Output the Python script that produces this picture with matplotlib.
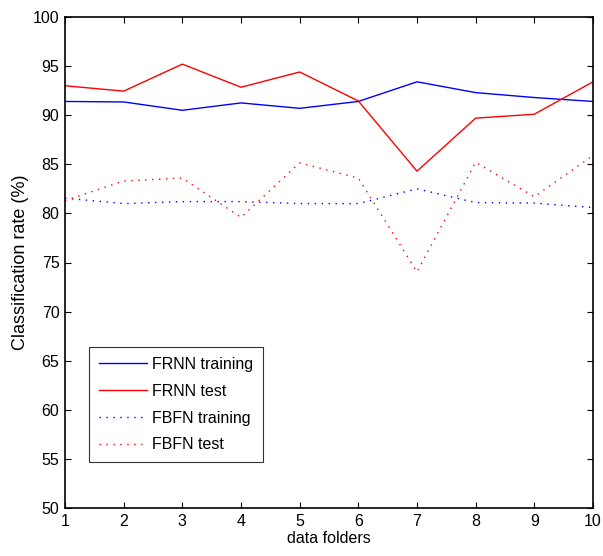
import matplotlib
matplotlib.use("Agg")
import matplotlib.pyplot as plt

plt.rcParams['font.family'] = ['Liberation Sans', 'DejaVu Sans']

folders = [1, 2, 3, 4, 5, 6, 7, 8, 9, 10]
frnn_train = [91.4, 91.35, 90.5, 91.25, 90.7, 91.4, 93.4, 92.3, 91.8, 91.4]
frnn_test = [93.0, 92.45, 95.2, 92.85, 94.4, 91.45, 84.3, 89.7, 90.1, 93.4]
fbfn_train = [81.55, 81.0, 81.2, 81.2, 81.0, 81.0, 82.5, 81.1, 81.05, 80.6]
fbfn_test = [81.3, 83.3, 83.6, 79.6, 85.15, 83.6, 74.05, 85.2, 81.7, 85.9]

fig = plt.figure(figsize=(6.03, 5.56), dpi=100)
ax = fig.add_axes([65/603, 1 - 508/556, (593 - 65)/603, (508 - 17)/556])

dotted = (0, (1, 4))
ax.plot(folders, frnn_train, color='#0000ff', lw=1.0, label='FRNN training')
ax.plot(folders, frnn_test, color='#ff0000', lw=1.0, label='FRNN test')
ax.plot(folders, fbfn_train, color='#0000ff', lw=1.0, ls=dotted, label='FBFN training')
ax.plot(folders, fbfn_test, color='#ff0000', lw=1.0, ls=dotted, label='FBFN test')

ax.set_xlim(1, 10)
ax.set_ylim(50, 100)
ax.set_xticks(folders)
ax.set_yticks(range(50, 101, 5))
ax.tick_params(direction='in', length=4, width=0.8, labelsize=11.5, pad=4,
               top=True, right=True)
for s in ax.spines.values():
    s.set_linewidth(1.2)

ax.set_xlabel('data folders', fontsize=11.5, labelpad=2)
ax.set_ylabel('Classification rate (%)', fontsize=13, labelpad=3)

leg = ax.legend(loc='lower left', bbox_to_anchor=(24/528, 46/491), borderaxespad=0,
                fontsize=11.5, frameon=True, fancybox=False, edgecolor='black',
                handlelength=3.0, borderpad=0.6, labelspacing=0.74,
                handletextpad=0.35)
leg.get_frame().set_linewidth(0.8)

fig.savefig('out.png', dpi=100)
